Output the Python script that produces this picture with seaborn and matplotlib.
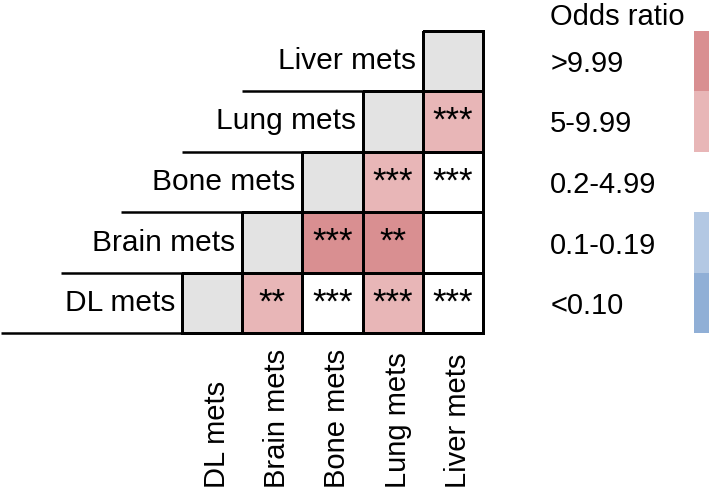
import matplotlib
matplotlib.use("Agg")
import matplotlib.pyplot as plt
import numpy as np
import pandas as pd
import seaborn as sns
from matplotlib.colors import ListedColormap

# metastasis sites, columns left -> right; rows are drawn top -> bottom in reverse
sites = ["DL mets", "Brain mets", "Bone mets", "Lung mets", "Liver mets"]

# pairwise results (row site, column site, odds ratio class, significance)
pair_row = ["Lung mets", "Bone mets", "Bone mets", "Brain mets", "Brain mets", "Brain mets",
            "DL mets", "DL mets", "DL mets", "DL mets"]
pair_col = ["Liver mets", "Lung mets", "Liver mets", "Bone mets", "Lung mets", "Liver mets",
            "Brain mets", "Bone mets", "Lung mets", "Liver mets"]
or_class = [3, 3, 2, 4, 4, 2, 3, 2, 3, 2]
stars = ["***", "***", "***", "***", "**", "", "**", "***", "***", "***"]

# odds ratio classes, lowest first
class_labels = ["<0.10", "0.1-0.19", "0.2-4.99", "5-9.99", ">9.99"]
class_colors = ["#90afd6", "#b3c8e3", "#ffffff", "#e8b6b7", "#d98f91"]
diag_color = "#e3e3e3"


def build_tables():
    rows = sites[::-1]
    vals = pd.DataFrame(np.nan, index=rows, columns=sites)
    notes = pd.DataFrame("", index=rows, columns=sites)
    for r, c, v, s in zip(pair_row, pair_col, or_class, stars):
        vals.loc[r, c] = v
        notes.loc[r, c] = s
    diag = pd.DataFrame(np.nan, index=rows, columns=sites)
    for s in sites:
        diag.loc[s, s] = 1
    return vals, notes, diag


def edges_only_on_filled(mesh):
    # masked cells should not get a border
    arr = np.ma.getmaskarray(mesh.get_array()).ravel()
    ec = np.zeros((arr.size, 4))
    ec[~arr, 3] = 1.0
    mesh.set_edgecolors(ec)


def main():
    sns.set_theme()
    sns.set_style("white")
    plt.rcParams["font.family"] = ["Liberation Sans", "DejaVu Sans"]
    plt.rcParams["text.color"] = "black"
    plt.rcParams["ytick.color"] = "black"

    vals, notes, diag = build_tables()
    n = len(sites)

    W, H = 709, 490
    fig = plt.figure(figsize=(W / 100, H / 100), dpi=100)
    ax = fig.add_axes([181.7 / W, 1 - 333.3 / H, 301.6 / W, 302.6 / H])
    cax = fig.add_axes([694 / W, 1 - 333.3 / H, 20 / W, 302.6 / H])

    cmap = ListedColormap(class_colors)
    sns.heatmap(vals, ax=ax, cmap=cmap, vmin=-0.5, vmax=4.5, annot=notes, fmt="",
                annot_kws={"fontsize": 25, "color": "black"},
                linewidths=1.8, linecolor="black", cbar_ax=cax)
    sns.heatmap(diag, ax=ax, cmap=ListedColormap([diag_color]), cbar=False,
                linewidths=1.8, linecolor="black")
    for coll in ax.collections:
        edges_only_on_filled(coll)
        coll.set_clip_on(False)

    ax.set_xticks([])
    ax.set_yticks([])
    ax.set_xlabel("")
    ax.set_ylabel("")
    for sp in ax.spines.values():
        sp.set_visible(False)

    # row labels and staircase lines
    rows = list(vals.index)
    for i, name in enumerate(rows):
        d = n - 1 - i
        ax.text(d - 0.11, i + 0.5, name, ha="right", va="center", fontsize=21.5)
        ax.plot([d - 3, d], [i + 1, i + 1], color="black", lw=1.8, clip_on=False,
                solid_capstyle="butt")

    # column labels, bottom aligned
    for j, name in enumerate(sites):
        ax.text(j + 0.58, n + 2.55, name, rotation=90, ha="center", va="bottom", fontsize=21)

    # legend bar
    cbar = ax.collections[0].colorbar
    cbar.outline.set_visible(False)
    cax.yaxis.set_ticks_position("left")
    cbar.set_ticks(range(len(class_labels)))
    cbar.set_ticklabels(class_labels)
    cax.tick_params(length=0, pad=103.5, labelsize=21, labelcolor="black")
    for lbl in cax.get_yticklabels():
        lbl.set_ha("left")
    fig.text(550 / W, 1 - 17 / H, "Odds ratio", ha="left", va="center", fontsize=21)

    fig.savefig("out.png", dpi=100)


if __name__ == "__main__":
    main()
